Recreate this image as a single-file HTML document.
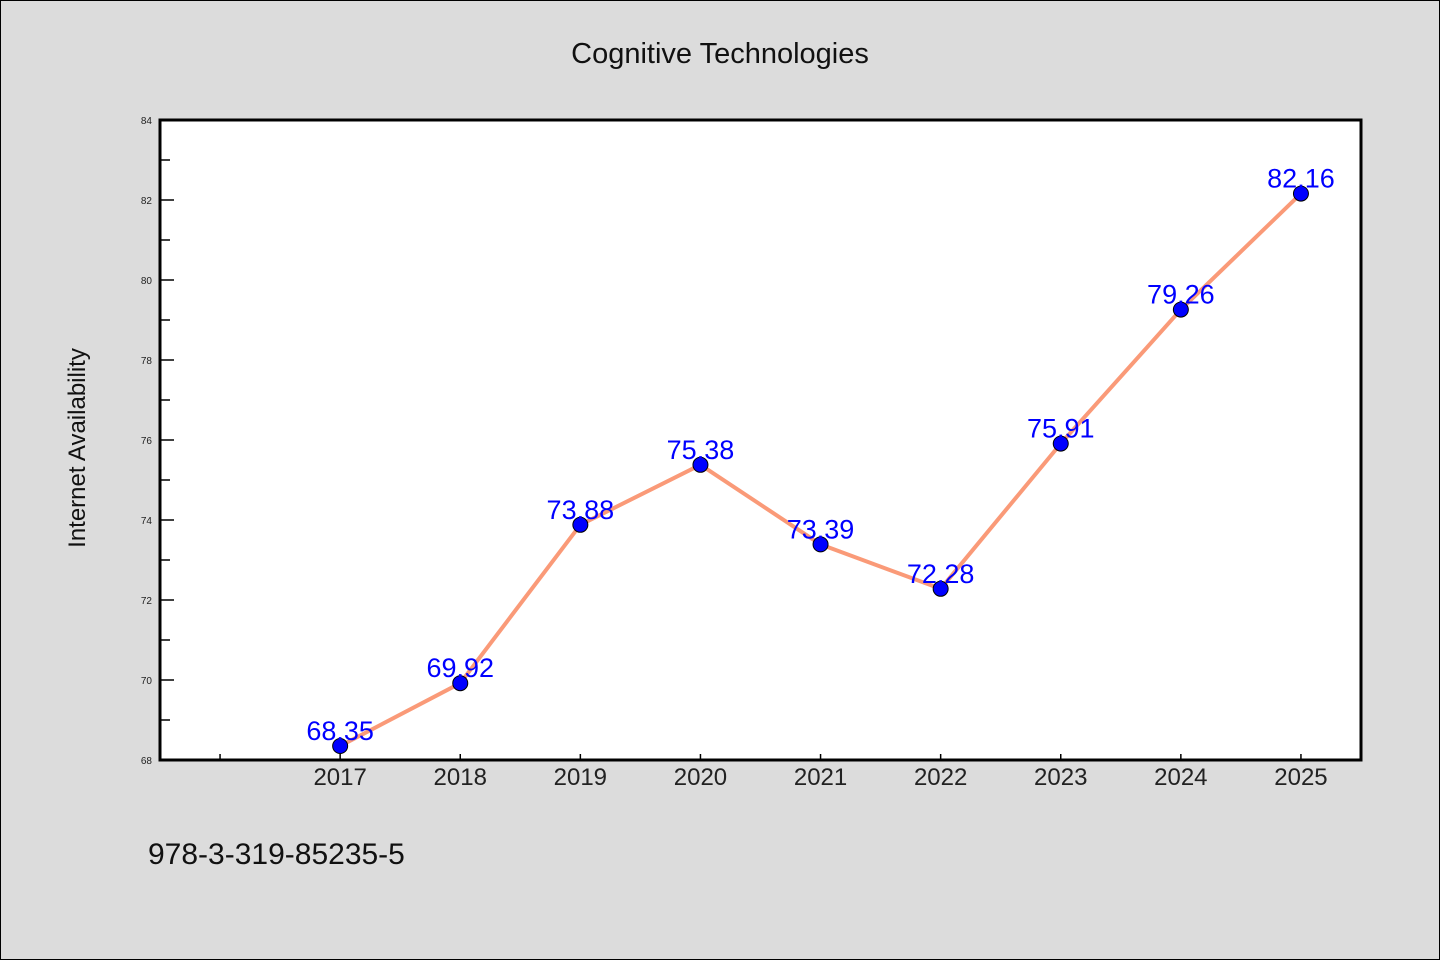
<!DOCTYPE html>
<html><head><meta charset="utf-8"><style>
body{margin:0;background:#dcdcdc;}
svg{display:block;font-family:"WenQuanYi Zen Hei","Liberation Sans",sans-serif;}
</style></head><body>
<svg id="chart" width="1440" height="960">
<rect x="0.5" y="0.5" width="1439" height="959" fill="#dcdcdc" stroke="#000"/>
<text x="720" y="63" text-anchor="middle" font-size="29" fill="#111">Cognitive Technologies</text>
<rect x="160" y="120" width="1201" height="640" fill="#fff"/>
<g id="ticks"></g>
<g id="series"></g>
<rect x="160" y="120" width="1201" height="640" fill="none" stroke="#000" stroke-width="3"/>
<text transform="translate(85,448) rotate(-90)" text-anchor="middle" font-size="24" fill="#111">Internet Availability</text>
<text x="148" y="864" font-size="30" fill="#111">978-3-319-85235-5</text>
</svg>
<script>
const years = [2017,2018,2019,2020,2021,2022,2023,2024,2025];
const values = [68.35,69.92,73.88,75.38,73.39,72.28,75.91,79.26,82.16];
const yTicks = [68,70,72,74,76,78,80,82,84];
const NS="http://www.w3.org/2000/svg";
const X0=160,X1=1361,Y0=760,Y1=120,xmin=2015.5,xmax=2025.5,ymin=68,ymax=84;
const xs=v=>X0+(v-xmin)/(xmax-xmin)*(X1-X0);
const ys=v=>Y0-(v-ymin)/(ymax-ymin)*(Y0-Y1);
function mk(tag,attrs,parent){const e=document.createElementNS(NS,tag);for(const k in attrs)e.setAttribute(k,attrs[k]);parent.appendChild(e);return e;}
const tg=document.getElementById('ticks'),sg=document.getElementById('series');
yTicks.forEach((t,i)=>{
  const y=ys(t);
  const l=mk('line',{x1:X0,x2:X0+14,y1:y,y2:y,stroke:'#000','stroke-width':1.5},tg);
  
  
  const tx=mk('text',{x:152,y:y+4,'text-anchor':'end','font-size':10,fill:'#222'},tg);
  tx.textContent=t;
  
  
  if(i<yTicks.length-1){
    const ym=ys(t+1);
    const m=mk('line',{x1:X0,x2:X0+10,y1:ym,y2:ym,stroke:'#000','stroke-width':1.5},tg);
    
    
  }
});
[years[0]-1].concat(years).forEach(yr=>{
  const x=xs(yr);
  const l=mk('line',{x1:x,x2:x,y1:Y0,y2:Y0-6,stroke:'#000','stroke-width':1.5},tg);
  
  
});
years.forEach(yr=>{
  const tx=mk('text',{x:xs(yr),y:785,'text-anchor':'middle','font-size':24,fill:'#222'},tg);
  tx.textContent=yr;
  
  
});
const pl=mk('polyline',{points:years.map((y,i)=>xs(y)+','+ys(values[i])).join(' '),fill:'none',stroke:'#fa9a78','stroke-width':4,'stroke-linejoin':'round'},sg);


years.forEach((yr,i)=>{
  const c=mk('circle',{cx:xs(yr),cy:ys(values[i]),r:7.5,fill:'#0000ff',stroke:'#000','stroke-width':1},sg);
  
  
});
years.forEach((yr,i)=>{
  const t=mk('text',{x:xs(yr),y:ys(values[i])-6,'text-anchor':'middle','font-size':27,fill:'#0000ff'},sg);
  t.textContent=values[i].toFixed(2);
  
  
});
</script>
</body></html>
